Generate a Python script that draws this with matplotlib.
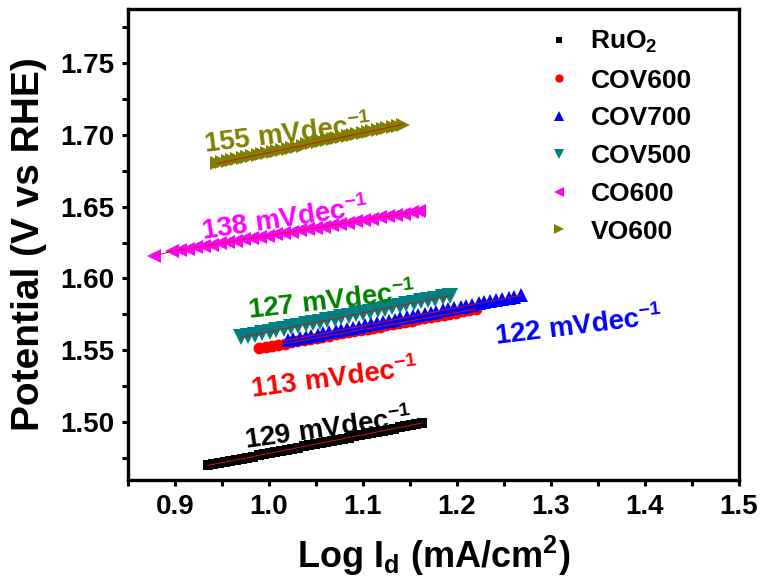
import matplotlib
matplotlib.use("Agg")
import matplotlib.pyplot as plt
from matplotlib.ticker import MultipleLocator

plt.rcParams["font.family"] = ["Liberation Sans", "DejaVu Sans"]
plt.rcParams["font.weight"] = "bold"
plt.rcParams["mathtext.default"] = "regular"

# Tafel data: log current density vs potential
ruo2_x = [0.935, 0.941, 0.947, 0.953, 0.959, 0.965, 0.971, 0.977, 0.983, 0.989,
          0.995, 1.001, 1.007, 1.013, 1.019, 1.025, 1.031, 1.037, 1.043, 1.049,
          1.055, 1.061, 1.067, 1.073, 1.079, 1.085, 1.091, 1.097, 1.103, 1.109,
          1.115, 1.121, 1.127, 1.133, 1.139, 1.145, 1.151, 1.157, 1.163]
ruo2_y = [1.4700, 1.4708, 1.4716, 1.4723, 1.4731, 1.4739, 1.4747, 1.4754, 1.4762, 1.4770,
          1.4778, 1.4785, 1.4793, 1.4801, 1.4809, 1.4816, 1.4824, 1.4832, 1.4840, 1.4847,
          1.4855, 1.4863, 1.4871, 1.4878, 1.4886, 1.4894, 1.4902, 1.4909, 1.4917, 1.4925,
          1.4933, 1.4940, 1.4948, 1.4956, 1.4964, 1.4971, 1.4979, 1.4987, 1.4995]

cov600_x = [0.990, 0.997, 1.003, 1.010, 1.017, 1.024, 1.030, 1.037, 1.044, 1.051,
            1.057, 1.064, 1.071, 1.078, 1.084, 1.091, 1.098, 1.105, 1.111, 1.118,
            1.125, 1.132, 1.138, 1.145, 1.152, 1.159, 1.165, 1.172, 1.179, 1.186,
            1.192, 1.199, 1.206, 1.213, 1.220]
cov600_y = [1.5515, 1.5523, 1.5530, 1.5538, 1.5547, 1.5555, 1.5562, 1.5570, 1.5579, 1.5587,
            1.5594, 1.5602, 1.5611, 1.5619, 1.5626, 1.5634, 1.5643, 1.5651, 1.5658, 1.5666,
            1.5675, 1.5683, 1.5690, 1.5698, 1.5707, 1.5715, 1.5722, 1.5730, 1.5739, 1.5747,
            1.5754, 1.5762, 1.5771, 1.5779, 1.5787]

cov700_x = [1.020, 1.026, 1.033, 1.039, 1.045, 1.052, 1.058, 1.064, 1.071, 1.077,
            1.083, 1.090, 1.096, 1.102, 1.109, 1.115, 1.121, 1.128, 1.134, 1.140,
            1.147, 1.153, 1.159, 1.166, 1.172, 1.178, 1.185, 1.191, 1.197, 1.204,
            1.210, 1.216, 1.223, 1.229, 1.235, 1.242, 1.248, 1.255, 1.261, 1.268]
cov700_y = [1.5570, 1.5578, 1.5586, 1.5594, 1.5602, 1.5610, 1.5618, 1.5626, 1.5634, 1.5642,
            1.5650, 1.5658, 1.5666, 1.5674, 1.5682, 1.5690, 1.5698, 1.5706, 1.5714, 1.5722,
            1.5730, 1.5738, 1.5746, 1.5754, 1.5762, 1.5770, 1.5778, 1.5786, 1.5794, 1.5802,
            1.5810, 1.5818, 1.5826, 1.5834, 1.5842, 1.5850, 1.5858, 1.5866, 1.5874, 1.5882]

cov500_x = [0.970, 0.978, 0.985, 0.993, 1.001, 1.008, 1.016, 1.024, 1.031, 1.039,
            1.047, 1.054, 1.062, 1.070, 1.077, 1.085, 1.093, 1.100, 1.108, 1.116,
            1.123, 1.131, 1.139, 1.146, 1.154, 1.162, 1.169, 1.177, 1.185, 1.193]
cov500_y = [1.5590, 1.5600, 1.5610, 1.5620, 1.5630, 1.5640, 1.5650, 1.5660, 1.5670, 1.5680,
            1.5690, 1.5700, 1.5710, 1.5720, 1.5730, 1.5740, 1.5750, 1.5760, 1.5770, 1.5780,
            1.5790, 1.5800, 1.5810, 1.5820, 1.5830, 1.5840, 1.5850, 1.5860, 1.5870, 1.5880]

co600_x = [0.878, 0.897, 0.906, 0.914, 0.923, 0.931, 0.940, 0.948, 0.957, 0.965,
           0.974, 0.982, 0.991, 0.999, 1.008, 1.016, 1.025, 1.033, 1.042, 1.050,
           1.059, 1.067, 1.076, 1.084, 1.093, 1.101, 1.110, 1.118, 1.127, 1.135,
           1.144, 1.152, 1.160]
co600_y = [1.6155, 1.6190, 1.6199, 1.6208, 1.6217, 1.6226, 1.6235, 1.6244, 1.6253, 1.6262,
           1.6271, 1.6280, 1.6289, 1.6298, 1.6307, 1.6316, 1.6325, 1.6334, 1.6343, 1.6352,
           1.6361, 1.6370, 1.6379, 1.6388, 1.6397, 1.6406, 1.6415, 1.6424, 1.6433, 1.6442,
           1.6451, 1.6460, 1.6469]

vo600_x = [0.945, 0.950, 0.956, 0.961, 0.966, 0.972, 0.977, 0.982, 0.988, 0.993,
           0.998, 1.004, 1.009, 1.014, 1.020, 1.025, 1.030, 1.036, 1.041, 1.046,
           1.052, 1.057, 1.062, 1.068, 1.073, 1.078, 1.084, 1.089, 1.094, 1.100,
           1.105, 1.110, 1.116, 1.121, 1.126, 1.132, 1.137, 1.143]
vo600_y = [1.6800, 1.6807, 1.6815, 1.6822, 1.6829, 1.6837, 1.6844, 1.6851, 1.6858, 1.6866,
           1.6873, 1.6880, 1.6888, 1.6895, 1.6902, 1.6910, 1.6917, 1.6924, 1.6932, 1.6939,
           1.6946, 1.6953, 1.6961, 1.6968, 1.6975, 1.6983, 1.6990, 1.6997, 1.7005, 1.7012,
           1.7019, 1.7027, 1.7034, 1.7041, 1.7048, 1.7056, 1.7063, 1.7070]

series = [
    ("RuO$_2$", ruo2_x, ruo2_y, "s", "#000000", 7),
    ("COV600", cov600_x, cov600_y, "o", "#ff0000", 8.5),
    ("COV700", cov700_x, cov700_y, "^", "#0000ff", 10.5),
    ("COV500", cov500_x, cov500_y, "v", "#008080", 11),
    ("CO600", co600_x, co600_y, "<", "#ff00ff", 10.5),
    ("VO600", vo600_x, vo600_y, ">", "#808000", 10.5),
]

# Tafel slope labels: text, position, rotation, colour
slope_labels = ["155 mVdec$^{-1}$", "138 mVdec$^{-1}$", "127 mVdec$^{-1}$",
                "113 mVdec$^{-1}$", "122 mVdec$^{-1}$", "129 mVdec$^{-1}$"]
slope_pos = [(1.020, 1.700), (1.017, 1.641), (1.067, 1.584),
             (1.070, 1.530), (1.329, 1.566), (1.063, 1.495)]
slope_rot = [7, 8.5, 6.5, 7.5, 7, 8]
slope_col = ["#808000", "#ff00ff", "#008000", "#ff0000", "#0000ff", "#000000"]

fig = plt.figure(figsize=(7.61, 5.88), dpi=100)
ax = fig.add_axes([0.168, 0.184, 0.803, 0.801])

for name, xs, ys, m, c, ms in series:
    ax.plot(xs, ys, linestyle="none", marker=m, color=c, markersize=ms,
            markeredgewidth=0, label=name)
for name, xs, ys, m, c, ms in series:
    ax.plot(xs, ys, linestyle="-", color="#d01010", linewidth=0.7)

for t, (px, py), r, c in zip(slope_labels, slope_pos, slope_rot, slope_col):
    ax.text(px, py, t, color=c, fontsize=20, fontweight="bold", rotation=r,
            ha="center", va="center", rotation_mode="anchor")

ax.set_xlim(0.85, 1.5)
ax.set_ylim(1.46, 1.7875)
ax.xaxis.set_minor_locator(MultipleLocator(0.05))
ax.yaxis.set_minor_locator(MultipleLocator(0.025))
ax.set_xticks([0.9, 1.0, 1.1, 1.2, 1.3, 1.4, 1.5])
ax.set_xticklabels(["0.9", "1.0", "1.1", "1.2", "1.3", "1.4", "1.5"])
ax.set_yticks([1.50, 1.55, 1.60, 1.65, 1.70, 1.75])
ax.set_yticklabels(["1.50", "1.55", "1.60", "1.65", "1.70", "1.75"])

for s in ax.spines.values():
    s.set_linewidth(2.4)
ax.tick_params(which="both", direction="out", width=2.2, top=False, right=False,
               labelsize=20, pad=6)
ax.tick_params(which="major", length=4)
ax.tick_params(which="minor", length=4)
for lbl in ax.get_xticklabels() + ax.get_yticklabels():
    lbl.set_fontweight("bold")

ax.set_xlabel("Log I$_d$ (mA/cm$^2$)", fontsize=26, fontweight="bold", labelpad=10)
ax.set_ylabel("Potential (V vs RHE)", fontsize=28, fontweight="bold", labelpad=9)

leg = ax.legend(loc="upper left", bbox_to_anchor=(0.662, 0.98), frameon=False,
                prop={"size": 19, "weight": "bold"}, markerscale=0.7,
                handlelength=1.2, handletextpad=0.6, labelspacing=0.52,
                borderaxespad=0)

fig.savefig("out.png", dpi=100)
